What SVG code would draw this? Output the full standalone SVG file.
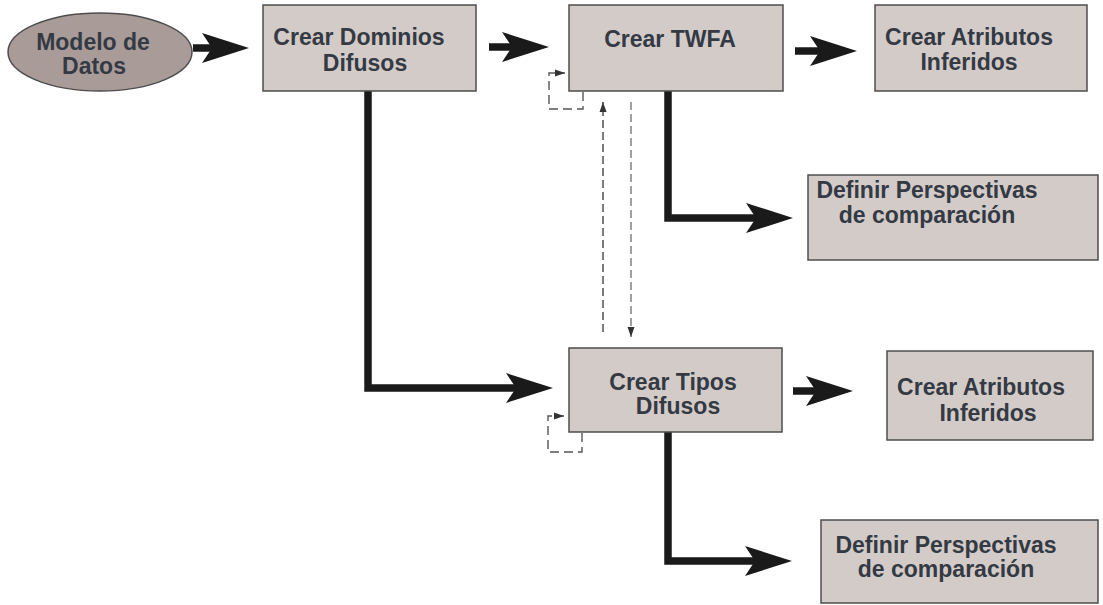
<svg xmlns="http://www.w3.org/2000/svg" xmlns:xlink="http://www.w3.org/1999/xlink" width="1103" height="605" viewBox="0 0 1103 605">
  <style>
    .box { fill: #d3cbc8; stroke: #4d4d4d; stroke-width: 1.5; }
    .oval { fill: #a99b98; stroke: #4d4d4d; stroke-width: 1.5; }
    .label { font-family: "Liberation Sans", Arial, sans-serif; font-weight: bold; font-size: 23px; fill: #333a44; text-anchor: middle; }
    .flow { fill: none; stroke: #1a1a1a; stroke-width: 7.5; stroke-linejoin: miter; }
    .head { fill: #1a1a1a; }
    .loop { fill: none; stroke: #555; stroke-width: 1.4; stroke-dasharray: 9 5; }
    .sync-up { fill: none; stroke: #444; stroke-width: 1.4; stroke-dasharray: 8 4; }
    .sync-down { fill: none; stroke: #777; stroke-width: 1.4; stroke-dasharray: 8 4; }
  </style>
  <defs>
    <!-- big right-pointing arrowhead, tip at the origin -->
    <path id="bighead" d="M0,0 L-47,-15 L-37,0 L-47,15 Z"/>
    <marker id="small" markerUnits="userSpaceOnUse" markerWidth="11" markerHeight="8" refX="10" refY="4" orient="auto">
      <path d="M0,0.5 L10,4 L0,7.5 Z" fill="#333"/>
    </marker>
  </defs>

  <rect width="1103" height="605" fill="#ffffff"/>

  <!-- connectors -->
  <g id="connectors">
    <!-- Modelo de Datos -> Crear Dominios Difusos -->
    <line class="flow" x1="193" y1="48" x2="222" y2="48"/>
    <use xlink:href="#bighead" class="head" transform="translate(249,48)"/>
    <!-- Crear Dominios Difusos -> Crear TWFA -->
    <line class="flow" x1="489" y1="47" x2="522" y2="47"/>
    <use xlink:href="#bighead" class="head" transform="translate(549,47)"/>
    <!-- Crear TWFA -> Crear Atributos Inferidos -->
    <line class="flow" x1="795" y1="51" x2="830" y2="51"/>
    <use xlink:href="#bighead" class="head" transform="translate(857,51)"/>
    <!-- Crear Dominios Difusos -> Crear Tipos Difusos -->
    <path class="flow" d="M368,91 V388 H526"/>
    <use xlink:href="#bighead" class="head" transform="translate(553,388)"/>
    <!-- Crear Tipos Difusos -> Crear Atributos Inferidos -->
    <line class="flow" x1="793" y1="391" x2="826" y2="391"/>
    <use xlink:href="#bighead" class="head" transform="translate(853,391)"/>
    <!-- Crear TWFA -> Definir Perspectivas -->
    <path class="flow" d="M668,91 V218 H766"/>
    <use xlink:href="#bighead" class="head" transform="translate(793,218)"/>
    <!-- Crear Tipos Difusos -> Definir Perspectivas -->
    <path class="flow" d="M668,432 V561 H765"/>
    <use xlink:href="#bighead" class="head" transform="translate(792,561)"/>

    <!-- self loops -->
    <path class="loop" d="M583,92 V109 H549 V73 H565" marker-end="url(#small)"/>
    <path class="loop" d="M582,433 V452 H548 V416 H564" marker-end="url(#small)"/>

    <!-- dashed links between TWFA and Tipos -->
    <line class="sync-up" x1="603" y1="332" x2="603" y2="102" marker-end="url(#small)"/>
    <line class="sync-down" x1="631" y1="102" x2="631" y2="337" marker-end="url(#small)"/>
  </g>

  <g id="modelo">
    <ellipse class="oval" cx="100" cy="52" rx="92" ry="39"/>
    <text class="label" x="93" y="50">Modelo de</text>
    <text class="label" x="94" y="74">Datos</text>
  </g>

  <g id="dominios">
    <rect class="box" x="263" y="5" width="213" height="86"/>
    <text class="label" x="359" y="45">Crear Dominios</text>
    <text class="label" x="365" y="71">Difusos</text>
  </g>

  <g id="twfa">
    <rect class="box" x="569" y="5" width="214" height="86"/>
    <text class="label" x="670" y="47">Crear TWFA</text>
  </g>

  <g id="atributos1">
    <rect class="box" x="875" y="5" width="212" height="86"/>
    <text class="label" x="969" y="45">Crear Atributos</text>
    <text class="label" x="969" y="70">Inferidos</text>
  </g>

  <g id="perspectivas1">
    <rect class="box" x="808" y="175" width="290" height="85"/>
    <text class="label" x="927" y="198">Definir Perspectivas</text>
    <text class="label" x="927" y="223">de comparación</text>
  </g>

  <g id="tipos">
    <rect class="box" x="569" y="348" width="213" height="84"/>
    <text class="label" x="673" y="390">Crear Tipos</text>
    <text class="label" x="678" y="414">Difusos</text>
  </g>

  <g id="atributos2">
    <rect class="box" x="887" y="351" width="206" height="89"/>
    <text class="label" x="981" y="395">Crear Atributos</text>
    <text class="label" x="988" y="421">Inferidos</text>
  </g>

  <g id="perspectivas2">
    <rect class="box" x="821" y="520" width="277" height="83"/>
    <text class="label" x="946" y="553">Definir Perspectivas</text>
    <text class="label" x="946" y="577">de comparación</text>
  </g>
</svg>
